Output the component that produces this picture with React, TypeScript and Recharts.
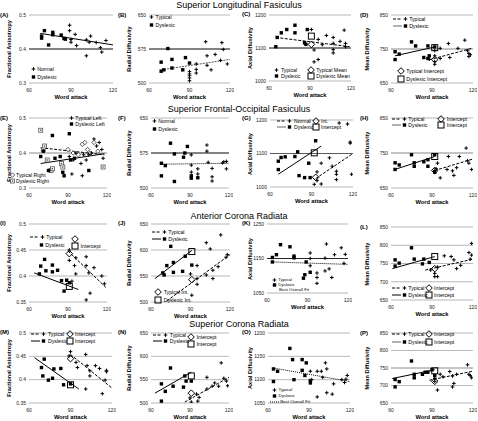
import { ScatterChart, Scatter, XAxis, YAxis, CartesianGrid, ReferenceLine } from 'recharts';

type Pt = [number, number];
type Mark = 'plus' | 'square' | 'diamond' | 'box' | 'smallDiamond' | 'dotBox';
type Stroke = 'solid' | 'dash' | 'dot' | 'grayDash' | 'gray';

const FONT = "'Liberation Sans', Arial, sans-serif";

const wordAttackTicks = [60, 90, 120];
const faTicks = [0.3, 0.4, 0.5];
const faTicksFine = [0.35, 0.4, 0.45, 0.5];
const rdTicks = [500, 575, 650];
const rdTicksFine = [500, 550, 600, 650];
const adTicks = [1000, 1100, 1200];
const adTicksK = [1050, 1150, 1250];
const adTicksO = [1050, 1100, 1150, 1200];
const mdTicks = [650, 750, 850];
const mdTicksFine = [650, 700, 750, 800, 850];

const sectionTitles = [
  'Superior Longitudinal Fasiculus',
  'Superior Frontal-Occipital Fasiculus',
  'Anterior Corona Radiata',
  'Superior Corona Radiata',
];
const yTitles = ['Fractional Anisotropy', 'Radial Diffusivity', 'Axial Diffusivity', 'Mean Diffusivity'];

// (A) SLF - FA
const aNormal: Pt[] = [[89, 0.47], [89, 0.454], [93, 0.443], [90, 0.428], [90, 0.42], [94, 0.41], [101, 0.427], [103, 0.42], [104, 0.438], [101, 0.38], [108, 0.419], [111, 0.404], [112, 0.391], [115, 0.425]];
const aDyslexic: Pt[] = [[69, 0.438], [69, 0.432], [71, 0.454], [74, 0.412], [77, 0.449], [77, 0.442], [83, 0.441], [85, 0.431], [86, 0.429]];
const aFit: Pt[] = [[68, 0.446], [120, 0.412]];

// (B) SLF - RD
const bTypical: Pt[] = [[102, 591], [114, 589], [115, 574], [103, 560], [109, 563], [103, 539], [106, 529], [113, 550], [118, 542], [90, 525], [90, 520], [90, 516], [90, 511], [90, 505], [95, 542], [95, 530], [95, 522]];
const bDyslexic: Pt[] = [[69, 546], [69, 526], [71, 529], [74, 576], [77, 552], [77, 533], [85, 529], [87, 556], [90, 544]];
const bFit: Pt[] = [[69, 529], [120, 552]];

// (C) SLF - AD
const cTypical: Pt[] = [[91, 1156], [96, 1126], [102, 1138], [107, 1132], [107, 1114], [107, 1095], [107, 1085], [115, 1154], [116, 1114], [116, 1104], [96, 1065], [93, 1058], [93, 1094], [99, 1110], [112, 1120]];
const cDyslexic: Pt[] = [[65, 1104], [66, 1132], [69, 1146], [73, 1156], [79, 1169], [79, 1146], [88, 1156], [86, 1116], [87, 1111]];
const cTypicalMean: Pt[] = [[91, 1111]];
const cDyslexicMean: Pt[] = [[91, 1136]];
const cFit: Pt[] = [[65, 1132], [119, 1104]];

// (D) SLF - MD
const dTypical: Pt[] = [[88, 720], [92, 745], [92, 730], [92, 713], [92, 705], [96, 752], [96, 722], [102, 766], [103, 725], [109, 752], [114, 776], [116, 745], [117, 737], [118, 733], [117, 728]];
const dDyslexic: Pt[] = [[63, 742], [63, 719], [66, 735], [75, 771], [78, 759], [84, 725], [87, 759], [88, 730], [92, 756], [87, 722]];
const dTypicalInt: Pt[] = [[92, 719]];
const dDyslexicInt: Pt[] = [[92, 754]];
const dFitTypical: Pt[] = [[88, 718], [119, 752]];
const dFitDyslexic: Pt[] = [[63, 730], [92, 756]];

// (E) SFOF - FA
const eTypicalLeft: Pt[] = [[91, 0.39], [94, 0.38], [96, 0.4], [100, 0.37], [102, 0.395], [104, 0.38], [106, 0.395], [108, 0.4], [110, 0.44], [112, 0.42], [114, 0.43], [116, 0.41], [117, 0.385], [93, 0.34], [101, 0.335]];
const eDyslexicLeft: Pt[] = [[69, 0.39], [71, 0.405], [75, 0.35], [78, 0.45], [80, 0.385], [84, 0.39], [86, 0.345], [87, 0.335], [91, 0.455], [92, 0.38], [95, 0.385], [106, 0.35]];
const eTypicalRight: Pt[] = [[90, 0.41], [94, 0.4], [98, 0.395], [101, 0.425], [103, 0.43], [105, 0.41], [107, 0.4], [110, 0.43], [113, 0.405]];
const eDyslexicRight: Pt[] = [[69, 0.465], [71, 0.41], [72, 0.42], [74, 0.38], [77, 0.35], [78, 0.355], [85, 0.37], [86, 0.36], [117, 0.36]];
const eFitTypical: Pt[] = [[69, 0.415], [118, 0.395]];
const eFitDyslexic: Pt[] = [[69, 0.37], [118, 0.398]];

// (F) SFOF - RD
const fNormal: Pt[] = [[91, 571], [91, 549], [91, 534], [96, 541], [96, 530], [103, 592], [103, 579], [104, 555], [107, 542], [107, 524], [107, 515], [115, 554], [116, 556], [118, 557], [118, 541]];
const fDyslexic: Pt[] = [[68, 553], [68, 526], [71, 548], [75, 596], [78, 573], [78, 514], [85, 566], [86, 575], [88, 589], [91, 526], [91, 521], [96, 522]];
const fFit: Pt[] = [[68, 551], [120, 553]];

// (G) SFOF - AD
const gNormal: Pt[] = [[94, 1019], [97, 1009], [97, 1071], [94, 1045], [103, 1087], [105, 1062], [108, 1047], [108, 1038], [108, 1022], [110, 1191], [116, 1188], [118, 1131], [118, 1134], [119, 1038], [92, 1008]];
const gDyslexic: Pt[] = [[66, 1077], [66, 1052], [68, 1088], [71, 1090], [78, 1091], [80, 1105], [81, 1034], [88, 1071], [89, 1028], [93, 1138], [85, 1028]];
const gTypicalInt: Pt[] = [[93, 1029]];
const gDyslexicInt: Pt[] = [[92, 1102]];
const gFitTypical: Pt[] = [[93, 1025], [120, 1100]];
const gFitDyslexic: Pt[] = [[66, 1038], [97, 1122]];

// (H) SFOF - MD
const hTypical: Pt[] = [[92, 700], [93, 705], [94, 721], [96, 679], [101, 703], [105, 699], [106, 686], [108, 708], [115, 764], [116, 728], [117, 721], [119, 703], [110, 740], [102, 740]];
const hDyslexic: Pt[] = [[63, 703], [63, 722], [66, 716], [75, 745], [77, 722], [77, 712], [84, 725], [87, 731], [87, 712], [92, 745], [92, 695]];
const hTypicalInt: Pt[] = [[92, 700]];
const hDyslexicInt: Pt[] = [[92, 740]];
const hFitTypical: Pt[] = [[92, 700], [120, 733]];
const hFitDyslexic: Pt[] = [[62, 702], [92, 740]];

// (I) ACR - FA
const iTypical: Pt[] = [[91, 0.45], [96, 0.435], [96, 0.404], [95, 0.42], [104, 0.437], [104, 0.42], [106, 0.406], [107, 0.367], [110, 0.416], [116, 0.4], [118, 0.385], [104, 0.354], [91, 0.43], [93, 0.39]];
const iDyslexic: Pt[] = [[68, 0.404], [69, 0.419], [72, 0.432], [73, 0.41], [78, 0.421], [78, 0.408], [82, 0.411], [85, 0.391], [87, 0.371], [91, 0.387], [89, 0.392]];
const iTypicalInt: Pt[] = [[91, 0.443]];
const iDyslexicInt: Pt[] = [[91, 0.38]];
const iFitTypical: Pt[] = [[90, 0.448], [120, 0.376]];
const iFitDyslexic: Pt[] = [[64, 0.406], [98, 0.374]];

// (J) ACR - RD
const jTypical: Pt[] = [[90, 554], [91, 513], [95, 570], [95, 545], [95, 534], [102, 614], [105, 602], [107, 561], [107, 545], [111, 568], [113, 629], [117, 586], [118, 591], [102, 552]];
const jDyslexic: Pt[] = [[69, 556], [70, 552], [72, 570], [75, 607], [77, 576], [77, 557], [84, 559], [86, 588], [91, 571]];
const jTypicalInt: Pt[] = [[91, 543]];
const jDyslexicInt: Pt[] = [[91, 597]];
const jFitTypical: Pt[] = [[72, 502], [120, 591]];
const jFitDyslexic: Pt[] = [[63, 545], [91, 599]];

// (K) ACR - AD
const kTypical: Pt[] = [[92, 1166], [92, 1129], [92, 1150], [97, 1108], [97, 1095], [97, 1078], [104, 1192], [103, 1151], [103, 1114], [108, 1095], [110, 1161], [115, 1181], [117, 1136], [118, 1162], [106, 1120]];
const kDyslexic: Pt[] = [[64, 1153], [64, 1140], [67, 1161], [70, 1190], [77, 1184], [80, 1157], [80, 1152], [89, 1140], [88, 1103], [87, 1093], [92, 1110]];
const kFit: Pt[] = [[64, 1140], [120, 1133]];

// (L) ACR - MD
const lTypical: Pt[] = [[89, 732], [92, 723], [92, 714], [94, 740], [94, 714], [99, 771], [104, 769], [106, 760], [111, 745], [118, 762], [119, 773], [117, 780], [119, 805], [108, 736]];
const lDyslexic: Pt[] = [[63, 743], [66, 751], [75, 793], [77, 762], [83, 749], [84, 762], [88, 753], [63, 760]];
const lTypicalInt: Pt[] = [[92, 736]];
const lDyslexicInt: Pt[] = [[92, 769]];
const lFitTypical: Pt[] = [[85, 732], [120, 762]];
const lFitDyslexic: Pt[] = [[61, 736], [92, 769]];

// (M) SCR - FA
const mTypical: Pt[] = [[89, 0.451], [90, 0.46], [94, 0.437], [95, 0.426], [101, 0.454], [101, 0.38], [102, 0.43], [104, 0.419], [104, 0.408], [108, 0.43], [111, 0.424], [115, 0.399], [116, 0.417], [116, 0.42], [113, 0.37]];
const mDyslexic: Pt[] = [[69, 0.426], [70, 0.408], [74, 0.399], [77, 0.403], [78, 0.423], [71, 0.444], [83, 0.424], [85, 0.389], [90, 0.391]];
const mTypicalInt: Pt[] = [[90, 0.445]];
const mDyslexicInt: Pt[] = [[90, 0.389]];
const mFitTypical: Pt[] = [[90, 0.454], [120, 0.382]];
const mFitDyslexic: Pt[] = [[64, 0.447], [96, 0.38]];

// (N) SCR - RD
const nTypical: Pt[] = [[90, 511], [91, 502], [95, 519], [96, 504], [97, 512], [103, 555], [103, 530], [107, 536], [109, 543], [112, 536], [114, 586], [116, 553], [118, 547], [119, 537]];
const nDyslexic: Pt[] = [[68, 541], [68, 504], [71, 525], [75, 575], [77, 536], [85, 534], [86, 558], [87, 547], [91, 547]];
const nTypicalInt: Pt[] = [[91, 521]];
const nDyslexicInt: Pt[] = [[91, 558]];
const nFitTypical: Pt[] = [[86, 502], [120, 555]];
const nFitDyslexic: Pt[] = [[63, 521], [91, 566]];

// (O) SCR - AD
const oTypical: Pt[] = [[91, 1118], [92, 1100], [96, 1118], [99, 1118], [100, 1105], [96, 1063], [102, 1136], [103, 1123], [103, 1072], [107, 1069], [108, 1091], [114, 1100], [116, 1094], [117, 1101], [118, 1109]];
const oDyslexic: Pt[] = [[64, 1123], [64, 1096], [67, 1118], [76, 1167], [78, 1143], [79, 1100], [85, 1143], [85, 1120], [87, 1109], [88, 1136], [91, 1098], [91, 1093]];
const oFit: Pt[] = [[64, 1125], [120, 1096]];

// (P) SCR - MD
const pTypical: Pt[] = [[92, 720], [92, 712], [94, 687], [96, 732], [98, 725], [105, 727], [108, 732], [106, 706], [105, 696], [116, 759], [117, 732], [119, 722], [118, 728], [103, 740]];
const pDyslexic: Pt[] = [[63, 717], [63, 696], [66, 711], [75, 770], [77, 732], [77, 722], [83, 732], [85, 738], [87, 738], [92, 728], [90, 745]];
const pTypicalInt: Pt[] = [[92, 712]];
const pDyslexicInt: Pt[] = [[92, 742]];
const pFitTypical: Pt[] = [[88, 715], [120, 741]];
const pFitDyslexic: Pt[] = [[61, 720], [92, 745]];

const strokeStyle: Record<Stroke, { color: string; dash?: string; width: number }> = {
  solid: { color: '#000', width: 1 },
  dash: { color: '#000', dash: '3 1.5', width: 1 },
  dot: { color: '#000', dash: '1 1', width: 1 },
  grayDash: { color: '#555', dash: '2 1', width: 1 },
  gray: { color: '#999', width: 1.5 },
};

function Marker({ kind, cx, cy }: { kind: Mark; cx: number; cy: number }) {
  switch (kind) {
    case 'plus':
      return <path d={`M${cx - 1.8} ${cy}H${cx + 1.8}M${cx} ${cy - 1.8}V${cy + 1.8}`} stroke="#000" strokeWidth={1} />;
    case 'square':
      return <rect x={cx - 1.7} y={cy - 1.7} width={3.4} height={3.4} fill="#000" />;
    case 'diamond':
      return <path d={`M${cx} ${cy - 3.3}L${cx + 3.3} ${cy}L${cx} ${cy + 3.3}L${cx - 3.3} ${cy}Z`} fill="none" stroke="#000" strokeWidth={1} />;
    case 'box':
      return <rect x={cx - 3} y={cy - 3} width={6} height={6} fill="none" stroke="#000" strokeWidth={1} />;
    case 'smallDiamond':
      return <path d={`M${cx} ${cy - 2.2}L${cx + 2.2} ${cy}L${cx} ${cy + 2.2}L${cx - 2.2} ${cy}Z`} fill="#fff" stroke="#333" strokeWidth={0.8} />;
    case 'dotBox':
      return (
        <g>
          <rect x={cx - 2} y={cy - 2} width={4} height={4} fill="#fff" stroke="#555" strokeWidth={0.8} />
          <rect x={cx - 0.7} y={cy - 0.7} width={1.4} height={1.4} fill="#555" />
        </g>
      );
  }
}

interface LegendItem { fx: number; fy: number; line?: Stroke; mark?: Mark; text: string }

interface PanelDef {
  letter: string;
  col: number;
  box: [number, number, number, number];
  letterY: number;
  yDomain: [number, number];
  yTicks: number[];
  series: { data: Pt[]; mark: Mark }[];
  fits: { seg: Pt[]; style: Stroke }[];
  emph?: { y: number; color: string; width: number };
  legend: LegendItem[];
  legendSize?: number;
}

const blackAxis = (y: number) => ({ y, color: '#000', width: 0.8 });
const grayBand = (y: number) => ({ y, color: '#c4c4c4', width: 2 });

const panels: PanelDef[] = [
  {
    letter: 'A', col: 0, box: [29, 15, 113, 83], letterY: 15, yDomain: [0.3, 0.5], yTicks: faTicks,
    series: [{ data: aNormal, mark: 'plus' }, { data: aDyslexic, mark: 'square' }],
    fits: [{ seg: aFit, style: 'solid' }], emph: blackAxis(0.4),
    legend: [{ fx: 0.02, fy: 0.8, mark: 'plus', text: 'Normal' }, { fx: 0.02, fy: 0.91, mark: 'square', text: 'Dyslexic' }],
  },
  {
    letter: 'B', col: 1, box: [149, 15, 230, 83], letterY: 15, yDomain: [500, 650], yTicks: rdTicks,
    series: [{ data: bTypical, mark: 'plus' }, { data: bDyslexic, mark: 'square' }],
    fits: [{ seg: bFit, style: 'grayDash' }], emph: blackAxis(575),
    legend: [{ fx: 0, fy: 0.03, mark: 'plus', text: 'Typical' }, { fx: 0, fy: 0.15, mark: 'square', text: 'Dyslexic' }],
  },
  {
    letter: 'C', col: 2, box: [269, 15, 351, 81], letterY: 14, yDomain: [1000, 1200], yTicks: adTicks,
    series: [{ data: cTypical, mark: 'plus' }, { data: cDyslexic, mark: 'square' }, { data: cTypicalMean, mark: 'diamond' }, { data: cDyslexicMean, mark: 'box' }],
    fits: [{ seg: cFit, style: 'dash' }], emph: blackAxis(1100),
    legend: [
      { fx: 0.067, fy: 0.84, mark: 'plus', text: 'Typical' }, { fx: 0.067, fy: 0.93, mark: 'square', text: 'Dyslexic' },
      { fx: 0.46, fy: 0.84, mark: 'diamond', text: 'Typical Mean' }, { fx: 0.46, fy: 0.93, mark: 'box', text: 'Dyslexic Mean' },
    ],
  },
  {
    letter: 'D', col: 3, box: [391, 15, 473, 83], letterY: 15, yDomain: [650, 850], yTicks: mdTicks,
    series: [{ data: dTypical, mark: 'plus' }, { data: dDyslexic, mark: 'square' }, { data: dTypicalInt, mark: 'diamond' }, { data: dDyslexicInt, mark: 'box' }],
    fits: [{ seg: dFitTypical, style: 'dash' }, { seg: dFitDyslexic, style: 'solid' }], emph: grayBand(750),
    legend: [
      { fx: 0.02, fy: 0.06, line: 'dash', mark: 'plus', text: 'Typical' }, { fx: 0.02, fy: 0.16, line: 'gray', mark: 'square', text: 'Dyslexic' },
      { fx: 0.07, fy: 0.83, mark: 'diamond', text: 'Typical Intercept' }, { fx: 0.07, fy: 0.94, mark: 'box', text: 'Dyslexic Intercept' },
    ],
  },
  {
    letter: 'E', col: 0, box: [29, 118, 107, 188], letterY: 118, yDomain: [0.3, 0.5], yTicks: faTicks,
    series: [{ data: eTypicalRight, mark: 'smallDiamond' }, { data: eDyslexicRight, mark: 'dotBox' }, { data: eTypicalLeft, mark: 'plus' }, { data: eDyslexicLeft, mark: 'square' }],
    fits: [{ seg: eFitTypical, style: 'dash' }, { seg: eFitDyslexic, style: 'solid' }], emph: grayBand(0.4),
    legend: [
      { fx: 0.51, fy: 0.0, mark: 'plus', text: 'Typical Left' }, { fx: 0.51, fy: 0.09, mark: 'square', text: 'Dyslexic Left' },
      { fx: -0.25, fy: 0.82, mark: 'smallDiamond', text: 'Typical Right' }, { fx: -0.25, fy: 0.9, mark: 'dotBox', text: 'Dyslexic Right' },
    ],
  },
  {
    letter: 'F', col: 1, box: [151, 118, 229, 188], letterY: 118, yDomain: [500, 650], yTicks: rdTicks,
    series: [{ data: fNormal, mark: 'plus' }, { data: fDyslexic, mark: 'square' }],
    fits: [{ seg: fFit, style: 'dot' }], emph: blackAxis(575),
    legend: [{ fx: 0.01, fy: 0.04, mark: 'plus', text: 'Normal' }, { fx: 0.01, fy: 0.15, mark: 'square', text: 'Dyslexic' }],
  },
  {
    letter: 'G', col: 2, box: [270, 120, 353, 187], letterY: 118, yDomain: [1000, 1200], yTicks: adTicks,
    series: [{ data: gNormal, mark: 'plus' }, { data: gDyslexic, mark: 'square' }, { data: gTypicalInt, mark: 'diamond' }, { data: gDyslexicInt, mark: 'box' }],
    fits: [{ seg: gFitTypical, style: 'dash' }, { seg: gFitDyslexic, style: 'solid' }], emph: { y: 1100, color: '#444', width: 0.8 },
    legend: [
      { fx: 0.09, fy: 0.01, line: 'dash', mark: 'plus', text: 'Normal' }, { fx: 0.09, fy: 0.1, line: 'gray', mark: 'square', text: 'Dyslexic' },
      { fx: 0.5, fy: 0.01, mark: 'diamond', text: 'Int.' }, { fx: 0.5, fy: 0.1, mark: 'box', text: 'Intercept' },
    ],
  },
  {
    letter: 'H', col: 3, box: [391, 118, 473, 188], letterY: 118, yDomain: [650, 850], yTicks: mdTicks,
    series: [{ data: hTypical, mark: 'plus' }, { data: hDyslexic, mark: 'square' }, { data: hTypicalInt, mark: 'diamond' }, { data: hDyslexicInt, mark: 'box' }],
    fits: [{ seg: hFitTypical, style: 'dash' }, { seg: hFitDyslexic, style: 'solid' }], emph: grayBand(750),
    legend: [
      { fx: 0.01, fy: 0.01, line: 'dash', mark: 'plus', text: 'Typical' }, { fx: 0.01, fy: 0.1, line: 'gray', mark: 'square', text: 'Dyslexic' },
      { fx: 0.565, fy: 0.01, mark: 'diamond', text: 'Intercept' }, { fx: 0.565, fy: 0.1, mark: 'box', text: 'Intercept' },
    ],
  },
  {
    letter: 'I', col: 0, box: [29, 224, 107, 302], letterY: 223, yDomain: [0.35, 0.5], yTicks: faTicksFine,
    series: [{ data: iTypical, mark: 'plus' }, { data: iDyslexic, mark: 'square' }, { data: iTypicalInt, mark: 'diamond' }, { data: iDyslexicInt, mark: 'box' }],
    fits: [{ seg: iFitTypical, style: 'dash' }, { seg: iFitDyslexic, style: 'solid' }],
    legend: [
      { fx: 0.01, fy: 0.17, line: 'dash', mark: 'plus', text: 'Typical' }, { fx: 0.126, fy: 0.27, mark: 'square', text: 'Dyslexic' },
      { fx: 0.54, fy: 0.19, mark: 'diamond', text: '' }, { fx: 0.54, fy: 0.28, mark: 'box', text: 'Intercept' },
    ],
  },
  {
    letter: 'J', col: 1, box: [151, 224, 230, 302], letterY: 223, yDomain: [500, 650], yTicks: rdTicksFine,
    series: [{ data: jTypical, mark: 'plus' }, { data: jDyslexic, mark: 'square' }, { data: jTypicalInt, mark: 'diamond' }, { data: jDyslexicInt, mark: 'box' }],
    fits: [{ seg: jFitTypical, style: 'dash' }, { seg: jFitDyslexic, style: 'solid' }],
    legend: [
      { fx: 0.01, fy: 0.1, line: 'dash', mark: 'plus', text: 'Typical' }, { fx: 0.01, fy: 0.19, line: 'solid', mark: 'square', text: 'Dyslexic' },
      { fx: 0.04, fy: 0.87, mark: 'diamond', text: 'Typical Int.' }, { fx: 0.04, fy: 0.97, mark: 'box', text: 'Dyslexic Int.' },
    ],
  },
  {
    letter: 'K', col: 2, box: [267, 224, 348, 293], letterY: 223, yDomain: [1050, 1250], yTicks: adTicksK,
    series: [{ data: kTypical, mark: 'plus' }, { data: kDyslexic, mark: 'square' }],
    fits: [{ seg: kFit, style: 'dot' }], emph: blackAxis(1150), legendSize: 4.4,
    legend: [
      { fx: 0.06, fy: 0.81, mark: 'plus', text: 'Typical' }, { fx: 0.06, fy: 0.88, mark: 'square', text: 'Dyslexic' },
      { fx: 0.13, fy: 0.96, text: 'Best Overall Fit' },
    ],
  },
  {
    letter: 'L', col: 3, box: [391, 227, 473, 300], letterY: 227, yDomain: [650, 850], yTicks: mdTicksFine,
    series: [{ data: lTypical, mark: 'plus' }, { data: lDyslexic, mark: 'square' }, { data: lTypicalInt, mark: 'diamond' }, { data: lDyslexicInt, mark: 'box' }],
    fits: [{ seg: lFitTypical, style: 'dash' }, { seg: lFitDyslexic, style: 'solid' }],
    legend: [
      { fx: 0.01, fy: 0.84, line: 'dash', mark: 'plus', text: 'Typical' }, { fx: 0.01, fy: 0.93, line: 'solid', mark: 'square', text: 'Dyslexic' },
      { fx: 0.41, fy: 0.84, mark: 'diamond', text: 'Intercept' }, { fx: 0.41, fy: 0.93, mark: 'box', text: 'Intercept' },
    ],
  },
  {
    letter: 'M', col: 0, box: [29, 333, 112, 403], letterY: 332, yDomain: [0.35, 0.5], yTicks: faTicksFine,
    series: [{ data: mTypical, mark: 'plus' }, { data: mDyslexic, mark: 'square' }, { data: mTypicalInt, mark: 'diamond' }, { data: mDyslexicInt, mark: 'box' }],
    fits: [{ seg: mFitTypical, style: 'dash' }, { seg: mFitDyslexic, style: 'solid' }],
    legend: [
      { fx: 0.03, fy: 0.02, line: 'dash', mark: 'plus', text: 'Typical' }, { fx: 0.03, fy: 0.12, line: 'solid', mark: 'square', text: 'Dyslexic' },
      { fx: 0.44, fy: 0.02, mark: 'diamond', text: 'Intercept' }, { fx: 0.44, fy: 0.12, mark: 'box', text: 'Intercept' },
    ],
  },
  {
    letter: 'N', col: 1, box: [151, 333, 229, 403], letterY: 332, yDomain: [500, 650], yTicks: rdTicksFine,
    series: [{ data: nTypical, mark: 'plus' }, { data: nDyslexic, mark: 'square' }, { data: nTypicalInt, mark: 'diamond' }, { data: nDyslexicInt, mark: 'box' }],
    fits: [{ seg: nFitTypical, style: 'dash' }, { seg: nFitDyslexic, style: 'solid' }],
    legend: [
      { fx: 0.03, fy: 0.035, line: 'dash', mark: 'plus', text: 'Typical' }, { fx: 0.03, fy: 0.12, line: 'solid', mark: 'square', text: 'Dyslexic' },
      { fx: 0.46, fy: 0.06, mark: 'diamond', text: 'Intercept' }, { fx: 0.46, fy: 0.16, mark: 'box', text: 'Intercept' },
    ],
  },
  {
    letter: 'O', col: 2, box: [268, 333, 350, 403], letterY: 332, yDomain: [1050, 1200], yTicks: adTicksO,
    series: [{ data: oTypical, mark: 'plus' }, { data: oDyslexic, mark: 'square' }],
    fits: [{ seg: oFit, style: 'dot' }], legendSize: 4.4,
    legend: [
      { fx: 0.05, fy: 0.81, mark: 'plus', text: 'Typical' }, { fx: 0.05, fy: 0.9, mark: 'square', text: 'Dyslexic' },
      { fx: 0.02, fy: 0.98, line: 'dot', text: 'Best Overall Fit' },
    ],
  },
  {
    letter: 'P', col: 3, box: [391, 333, 473, 403], letterY: 333, yDomain: [650, 850], yTicks: mdTicksFine,
    series: [{ data: pTypical, mark: 'plus' }, { data: pDyslexic, mark: 'square' }, { data: pTypicalInt, mark: 'diamond' }, { data: pDyslexicInt, mark: 'box' }],
    fits: [{ seg: pFitTypical, style: 'dash' }, { seg: pFitDyslexic, style: 'solid' }], emph: grayBand(750),
    legend: [
      { fx: 0.01, fy: 0.02, line: 'dash', mark: 'plus', text: 'Typical' }, { fx: 0.01, fy: 0.13, line: 'gray', mark: 'square', text: 'Dyslexic' },
      { fx: 0.41, fy: 0.02, mark: 'diamond', text: 'Intercept' }, { fx: 0.41, fy: 0.13, mark: 'box', text: 'Intercept' },
    ],
  },
];

const titleY = [5, 109, 216, 324];
const yTitleX = [10, 130, 251, 368];
const letterX = [0, 118, 242, 360];

const YW = 24;
const TOP = 4;
const RIGHT = 4;
const XH = 14;
const tickStyle = { fontSize: 5, fill: '#222', fontFamily: FONT };

function LegendRow({ item, box, size }: { item: LegendItem; box: PanelDef['box']; size: number }) {
  const [l, t, r, b] = box;
  const big = item.mark === 'diamond' || item.mark === 'box';
  const markW = item.mark ? (big ? 8 : 5) : 0;
  const lineW = item.line ? 9 : 0;
  const w = lineW + (item.line && item.mark ? 1 : 0) + markW;
  const st = item.line ? strokeStyle[item.line] : null;
  return (
    <div
      style={{
        position: 'absolute', left: l + item.fx * (r - l), top: t + item.fy * (b - t) - 4,
        height: 8, display: 'flex', alignItems: 'center', whiteSpace: 'nowrap', fontSize: size, lineHeight: '8px',
      }}
    >
      {w > 0 && (
        <svg width={w} height={8} style={{ overflow: 'visible' }}>
          {st && <line x1={0} x2={lineW} y1={4} y2={4} stroke={st.color} strokeWidth={st.width} strokeDasharray={st.dash} />}
          {item.mark && <Marker kind={item.mark} cx={w - markW / 2} cy={4} />}
        </svg>
      )}
      {item.text && <span style={{ marginLeft: 1.5 }}>{item.text}</span>}
    </div>
  );
}

function Panel({ p }: { p: PanelDef }) {
  const [l, t, r, b] = p.box;
  return (
    <>
      <div style={{ position: 'absolute', left: l - YW, top: t - TOP }}>
        <ScatterChart width={r - l + YW + RIGHT} height={b - t + TOP + XH} margin={{ top: TOP, right: RIGHT, bottom: 0, left: 0 }}>
          <CartesianGrid vertical={false} stroke="#9a9a9a" strokeWidth={0.7} />
          <XAxis
            type="number" dataKey="x" domain={[60, 120]} ticks={wordAttackTicks} interval={0}
            axisLine={false} tickLine={false} tickSize={3} tickMargin={2} height={XH} tick={tickStyle} allowDataOverflow
          />
          <YAxis
            type="number" dataKey="y" domain={p.yDomain} ticks={p.yTicks} interval={0}
            axisLine={false} tickLine={false} tickSize={2} tickMargin={1} width={YW} tick={tickStyle} allowDataOverflow
          />
          {p.emph && <ReferenceLine y={p.emph.y} stroke={p.emph.color} strokeWidth={p.emph.width} />}
          {p.fits.map((f, i) => {
            const st = strokeStyle[f.style];
            return (
              <ReferenceLine
                key={`fit${i}`}
                segment={[{ x: f.seg[0][0], y: f.seg[0][1] }, { x: f.seg[1][0], y: f.seg[1][1] }]}
                stroke={st.color} strokeWidth={st.width} strokeDasharray={st.dash} ifOverflow="visible"
              />
            );
          })}
          {p.series.map((s, i) => (
            <Scatter
              key={`s${i}`}
              data={s.data.map(([x, y]) => ({ x, y }))}
              isAnimationActive={false}
              shape={(props: any) => <Marker kind={s.mark} cx={props.cx} cy={props.cy} />}
            />
          ))}
        </ScatterChart>
      </div>
      <div style={{ position: 'absolute', left: letterX[p.col], top: p.letterY, transform: 'translateY(-50%)', fontSize: 6, fontWeight: 'bold', lineHeight: 1 }}>
        ({p.letter})
      </div>
      <div
        style={{
          position: 'absolute', left: yTitleX[p.col], top: (t + b) / 2, transform: 'translate(-50%, -50%) rotate(-90deg)',
          fontSize: 5.6, fontWeight: 'bold', whiteSpace: 'nowrap', lineHeight: 1,
        }}
      >
        {yTitles[p.col]}
      </div>
      <div
        style={{
          position: 'absolute', left: (l + r) / 2, top: b + 15, transform: 'translate(-50%, -50%)',
          fontSize: 5.8, fontWeight: 'bold', whiteSpace: 'nowrap', lineHeight: 1,
        }}
      >
        Word attack
      </div>
      {p.legend.map((item, i) => (
        <LegendRow key={`lg${i}`} item={item} box={p.box} size={p.legendSize ?? 5.2} />
      ))}
    </>
  );
}

export default function App() {
  return (
    <div style={{ position: 'absolute', left: 0, top: 0, width: 478, height: 421, background: '#fff', fontFamily: FONT, color: '#000', overflow: 'hidden' }}>
      {sectionTitles.map((s, i) => (
        <div key={s} style={{ position: 'absolute', left: 0, width: 478, top: titleY[i] - 5.5, textAlign: 'center', fontSize: 9, lineHeight: '11px' }}>
          {s}
        </div>
      ))}
      {panels.map((p) => (
        <Panel key={p.letter} p={p} />
      ))}
    </div>
  );
}
